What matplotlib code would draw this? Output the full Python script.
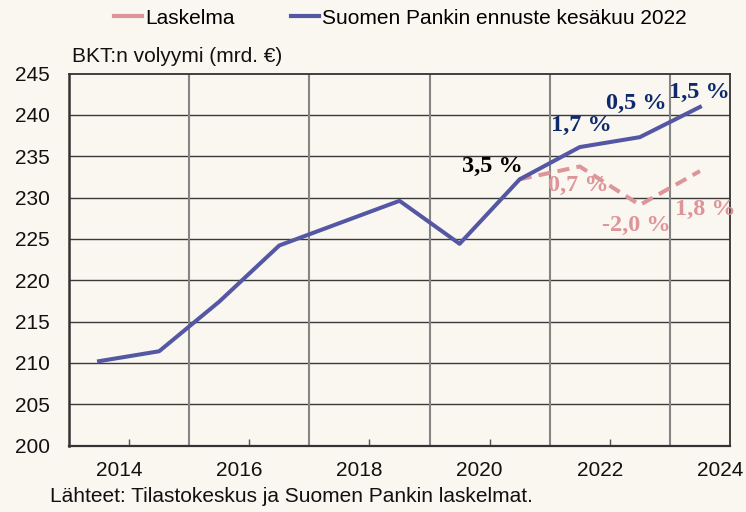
import matplotlib.pyplot as plt
from matplotlib.lines import Line2D

years = [2014, 2015, 2016, 2017, 2018, 2019, 2020, 2021, 2022, 2023, 2024]
ennuste = [210.2, 211.4, 217.4, 224.2, 226.9, 229.6, 224.4, 232.2, 236.1, 237.3, 240.95]
laskelma_years = [2021, 2022, 2023, 2024]
laskelma = [232.2, 233.75, 229.1, 233.2]

ennuste_labels = {2021: '3,5 %', 2022: '1,7 %', 2023: '0,5 %', 2024: '1,5 %'}
laskelma_labels = {2022: '0,7 %', 2023: '-2,0 %', 2024: '1,8 %'}

bg = '#faf6f0'
blue = '#5457a4'
pink = '#dd959a'
navy = '#0f2a6c'

plt.rcParams['font.family'] = ['Liberation Sans', 'DejaVu Sans']

fig = plt.figure(figsize=(7.46, 5.12), dpi=100, facecolor=bg)
ax = fig.add_axes([69 / 746, 1 - 445.5 / 512, 661 / 746, 372 / 512])
ax.set_facecolor(bg)

ax.plot(laskelma_years, laskelma, color=pink, lw=2.9, ls=(0, (3, 1.8)),
        solid_capstyle='butt', zorder=3)
ax.plot(years, ennuste, color=blue, lw=2.9, zorder=4)

ax.set_xlim(2013.5, 2024.5)
ax.set_ylim(200, 245)
ax.set_yticks(range(200, 246, 5))
ax.tick_params(axis='y', length=0, pad=14, labelsize=15, labelcolor='#111111')

label_years = list(range(2014, 2025, 2))
ax.set_xticks([y + 1 / 3 for y in label_years])
ax.set_xticklabels([str(y) for y in label_years])
ax.tick_params(axis='x', length=0, pad=11, labelsize=15, labelcolor='#111111')
ax.set_xticks([y + 0.5 for y in range(2014, 2023, 2)], minor=True)
ax.tick_params(axis='x', which='minor', direction='in', length=5, width=1, color='#555555')

for v in range(205, 245, 5):
    ax.axhline(v, color='#3a3a3a', lw=1.0, zorder=1)
for x in range(2015, 2024, 2):
    ax.axvline(x + 0.5, color='#858585', lw=1.5, zorder=1)

for s in ax.spines.values():
    s.set_color('#333333')
    s.set_linewidth(1.3)
ax.spines['left'].set_linewidth(1.8)
ax.spines['bottom'].set_linewidth(1.6)

serif = dict(family=['Liberation Serif', 'DejaVu Serif'], weight='bold', size=17.5,
             ha='center', va='center', annotation_clip=False)
offsets_e = {2021: (-19.5, 9.5), 2022: (1.4, 15.3), 2023: (-2.2, 24.1), 2024: (-0.7, 10.3)}
for y, txt in ennuste_labels.items():
    val = ennuste[years.index(y)]
    ax.annotate(txt, (y, val), xytext=offsets_e[y], textcoords='offset points',
                color='black' if y == 2021 else navy, zorder=5, **serif)
offsets_l = {2022: (-0.7, -13.9), 2023: (-2.2, -15.1), 2024: (3.6, -27.4)}
for y, txt in laskelma_labels.items():
    val = laskelma[laskelma_years.index(y)]
    ax.annotate(txt, (y, val), xytext=offsets_l[y], textcoords='offset points',
                color=pink, zorder=5, **serif)

handles = [Line2D([], [], color=pink, lw=3), Line2D([], [], color=blue, lw=3)]
fig.legend(handles, ['Laskelma', 'Suomen Pankin ennuste kesäkuu 2022'], ncol=2,
           loc='center', bbox_to_anchor=(400 / 746, 1 - 18 / 512), frameon=False,
           fontsize=15, handlelength=1.35, handletextpad=0.15, columnspacing=2.7)

fig.text(72 / 746, 1 - 57 / 512, 'BKT:n volyymi (mrd. €)', fontsize=15,
         ha='left', va='center', color='#111111')
fig.text(50 / 746, 1 - 497 / 512, 'Lähteet: Tilastokeskus ja Suomen Pankin laskelmat.',
         fontsize=15, ha='left', va='center', color='#111111')

fig.savefig('out.png', dpi=100, facecolor=bg)
